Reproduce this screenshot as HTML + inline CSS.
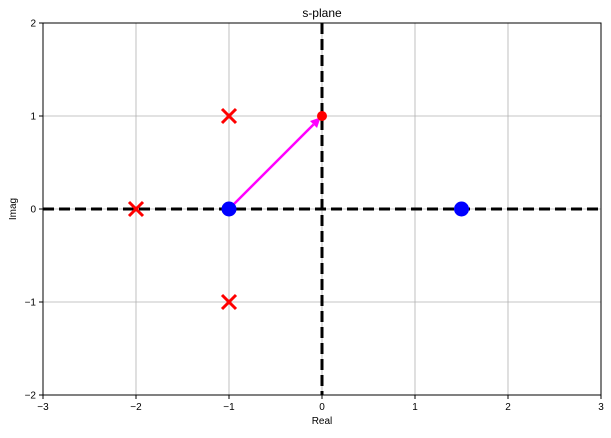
<!DOCTYPE html>
<html><head><meta charset="utf-8"><style>
body{margin:0;background:#fff;}
svg{font-family:"Liberation Sans","DejaVu Sans",sans-serif;}
</style></head><body>
<svg id="chart" width="611" height="433" xmlns="http://www.w3.org/2000/svg">
<rect width="611" height="433" fill="#fff"/>
<g id="grid"></g><g id="axes0"></g><g id="marks"></g><g id="ticks"></g>
<rect x="43" y="23" width="558" height="372" fill="none" stroke="#000" stroke-width="1"/>
<text x="322" y="17" text-anchor="middle" font-size="12">s-plane</text>
<text x="322" y="424" text-anchor="middle" font-size="10">Real</text>
<text transform="translate(16,209) rotate(-90)" text-anchor="middle" font-size="10">Imag</text>
</svg>
<script>
const xTicks=[-3,-2,-1,0,1,2,3];
const yTicks=[-2,-1,0,1,2];
const polesRe=[-2,-1,-1];
const polesIm=[0,1,-1];
const zerosRe=[-1,1.5];
const zerosIm=[0,0];
const testRe=[0];const testIm=[1];
const arrowFrom=[-1,0];const arrowTo=[0,1];
const NS="http://www.w3.org/2000/svg";
const X=v=>43+(v+3)*558/6, Y=v=>209-v*93;
function mk(p,t,a){const e=document.createElementNS(NS,t);for(const k in a)e.setAttribute(k,a[k]);document.getElementById(p).appendChild(e);return e;}
xTicks.forEach(v=>{
 const g=mk('grid','line',{x1:X(v),x2:X(v),y1:23,y2:395,stroke:'#b0b0b0','stroke-width':0.8});
 
 
 mk('ticks','line',{x1:X(v),x2:X(v),y1:395,y2:399,stroke:'#000'});
 const t=mk('ticks','text',{x:X(v),y:410,'text-anchor':'middle','font-size':10});
 t.textContent=v<0?'\u2212'+(-v):v;
 
 
});
yTicks.forEach(v=>{
 const g=mk('grid','line',{x1:43,x2:601,y1:Y(v),y2:Y(v),stroke:'#b0b0b0','stroke-width':0.8});
 
 
 mk('ticks','line',{x1:39,x2:43,y1:Y(v),y2:Y(v),stroke:'#000'});
 const t=mk('ticks','text',{x:36,y:Y(v)+3.5,'text-anchor':'end','font-size':10});
 t.textContent=v<0?'\u2212'+(-v):v;
 
 
});
const h=mk('axes0','line',{x1:43,x2:601,y1:Y(0),y2:Y(0),stroke:'#000','stroke-width':3,'stroke-dasharray':'11,5'});


const vv=mk('axes0','line',{x1:X(0),x2:X(0),y1:23,y2:395,stroke:'#000','stroke-width':3,'stroke-dasharray':'11,5'});


// arrow
const x1=X(arrowFrom[0]),y1=Y(arrowFrom[1]),x2=X(arrowTo[0]),y2=Y(arrowTo[1]);
const ang=Math.atan2(y2-y1,x2-x1),L=Math.hypot(x2-x1,y2-y1)-2;
const ex=x1+Math.cos(ang)*L,ey=y1+Math.sin(ang)*L;
const bx=ex-Math.cos(ang)*10,by=ey-Math.sin(ang)*10;
const al=mk('marks','line',{x1:x1,y1:y1,x2:bx,y2:by,stroke:'#ff00ff','stroke-width':2.5});


const px=-Math.sin(ang)*5,py=Math.cos(ang)*5;
const ah=mk('marks','polygon',{points:`${ex},${ey} ${bx+px},${by+py} ${bx-px},${by-py}`,fill:'#ff00ff'});


zerosRe.forEach((r,i)=>{
 const c=mk('marks','circle',{cx:X(r),cy:Y(zerosIm[i]),r:7.5,fill:'#0000ff'});
 
 
});
polesRe.forEach((r,i)=>{
 const cx=X(r),cy=Y(polesIm[i]),s=7;
 const p=mk('marks','path',{d:`M${cx-s},${cy-s}L${cx+s},${cy+s}M${cx-s},${cy+s}L${cx+s},${cy-s}`,stroke:'#ff0000','stroke-width':3});
 
 
});
testRe.forEach((r,i)=>{
 const c=mk('marks','circle',{cx:X(r),cy:Y(testIm[i]),r:5,fill:'#ff0000'});
 
 
});
</script>
</body></html>
